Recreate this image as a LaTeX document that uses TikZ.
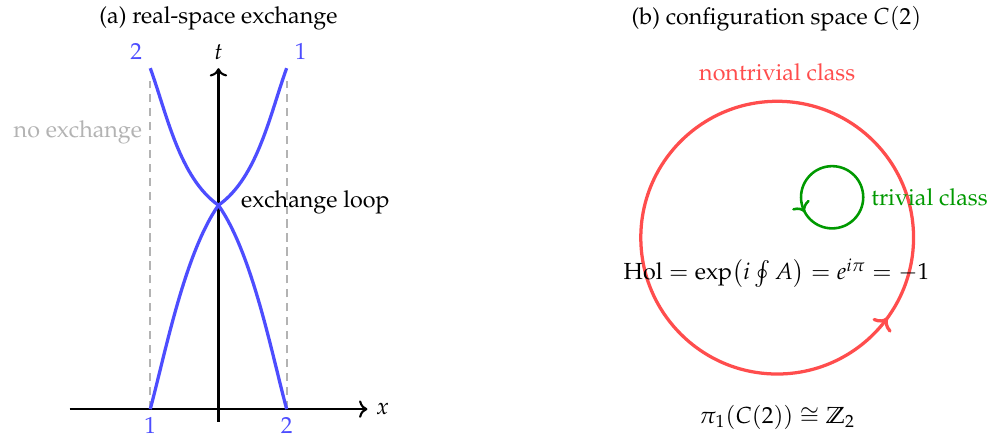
\documentclass[tikz,border=0pt]{standalone}
\usepackage[T1]{fontenc}
\usepackage{mathpazo}
\usepackage{amssymb}
\usepackage{xcolor}
\definecolor{pathBlue}  {HTML}{4D4DFF}
\definecolor{loopRed}   {HTML}{FF4D4D}
\definecolor{loopGreen} {HTML}{009900}
\definecolor{guideGray} {HTML}{B3B3B3}
\usetikzlibrary{arrows.meta, positioning, decorations.markings}
\tikzset{
    axis/.style={->, line width=0.9pt},
    worldline/.style={line width=1.4pt, pathBlue},
    plabel/.style={text=pathBlue},
    guide/.style={line width=0.9pt, dash pattern=on 3.5pt off 2.5pt, guideGray},
    loopmark/.style={postaction={decorate, decoration={markings,
                     mark=at position #1 with {\arrow{>}}}}},
    bigloop/.style={line width=1.4pt, loopRed, loopmark=0.9},
    smallloop/.style={line width=1.1pt, loopGreen, loopmark=0.58},
}

\begin{document}
\begin{tikzpicture}
    \useasboundingbox (-3.3,-0.38) rectangle (11.7,6.18);
    % (a) worldlines in real space
    \node (titleA) at (0,5.9) {(a) real-space exchange};
    \coordinate (xL) at (-2.25,0);
    \coordinate (xR) at (2.25,0);
    \coordinate (tB) at (0,-0.19);
    \coordinate (tT) at (0,5.15);
    \draw[axis] (xL) -- (xR) node[right] (xlbl) {$x$};
    \draw[axis] (tB) -- (tT) node[above] (tlbl) {$t$};

    \coordinate (p1s) at (-1.03,0);
    \coordinate (p2s) at (1.03,0);
    \coordinate (p1e) at (1.03,5.15);
    \coordinate (p2e) at (-1.03,5.15);
    \coordinate (cross) at (0,3.08);
    \coordinate (g1) at (-1.03,4.95);
    \coordinate (g2) at (1.03,4.95);
    \coordinate (noexat) at (-1.03,4.18);

    \draw[guide] (p1s) -- (g1);
    \draw[guide] (p2s) -- (g2);
    \node[left, text=guideGray] (noex) at (noexat) {no exchange};

    \draw[worldline] (p1s) to[out=75, in=235, looseness=0.7] (cross)
                           to[out=35, in=250, looseness=0.8] (p1e);
    \draw[worldline] (p2s) to[out=105, in=305, looseness=0.7] (cross)
                           to[out=145, in=290, looseness=0.8] (p2e);
    \node[plabel, below] (n1s) at (p1s) {1};
    \node[plabel, below] (n2s) at (p2s) {2};
    \node[plabel, above right] (n1e) at (p1e) {1};
    \node[plabel, above left] (n2e) at (p2e) {2};
    \node[right=2.2mm of cross, yshift=0.5mm] (looplbl) {exchange loop};

    % (b) loops in C(2)
    \node (titleB) at (8.43,5.9) {(b) configuration space $C(2)$};
    \coordinate (cfg) at (8.44,2.59);
    \coordinate (triv) at (9.27,3.2);
    \draw[bigloop] (cfg) circle (2.06);
    \draw[smallloop] (triv) circle (0.47);
    \node[text=loopRed] (ntlbl) at (8.44,5.08) {nontrivial class};
    \node[text=loopGreen, right=0.47cm of triv] (trlbl) {trivial class};
    \node (hol) at (8.43,2.05) {$\mathrm{Hol} = \exp\bigl(i \oint A\bigr) = e^{i\pi} = -1$};
    \node (pione) at (8.44,-0.12) {$\pi_1(C(2)) \cong \mathbb{Z}_2$};
\end{tikzpicture}
\end{document}
